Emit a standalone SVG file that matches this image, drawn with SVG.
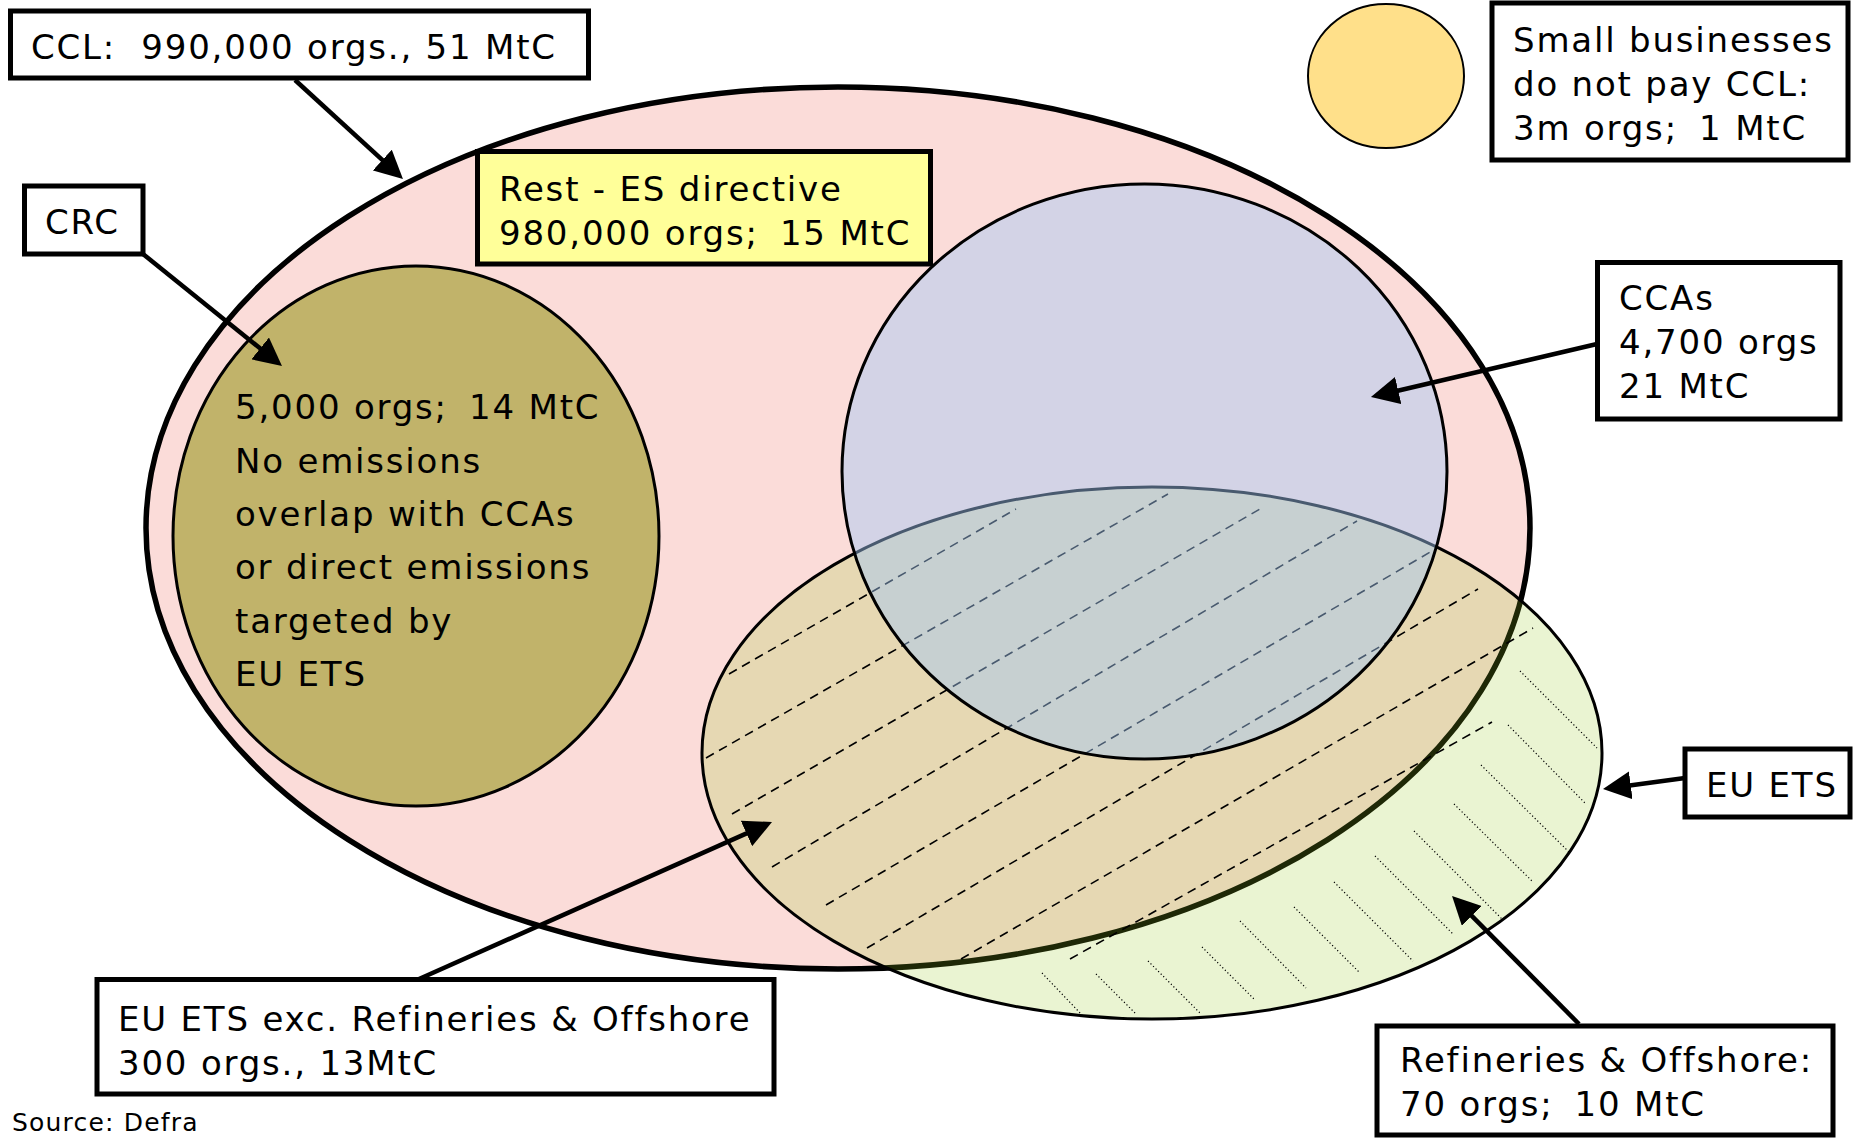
<svg xmlns="http://www.w3.org/2000/svg" width="1854" height="1138" viewBox="0 0 1854 1138">
<defs>
<style>
.lbl{font-family:"DejaVu Sans",Verdana,sans-serif;font-size:34px;letter-spacing:1.8px;fill:#000;white-space:pre}
.src{font-family:"DejaVu Sans",Verdana,sans-serif;font-size:25px;letter-spacing:1.2px;fill:#000;white-space:pre}
.box{fill:#fff;stroke:#000;stroke-width:5}
.conn{stroke:#000;stroke-width:4.5;fill:none;marker-end:url(#ah)}
.dash{stroke:#000;stroke-width:1.6;stroke-dasharray:9 6;fill:none}
.dot{stroke:#000;stroke-width:1.2;stroke-dasharray:1.2 2.4;fill:none}
</style>
<marker id="ah" markerUnits="userSpaceOnUse" markerWidth="28" markerHeight="28" viewBox="0 0 28 28" refX="18" refY="14" orient="auto"><path d="M0,0 L28,14 L0,28 z" fill="#000"/></marker>
</defs>
<rect width="1854" height="1138" fill="#fff"/>

<g id="ccl-ellipse">
<ellipse cx="838" cy="528" rx="692" ry="441" fill="#FBDCD9" stroke="#000" stroke-width="5.5"/>
</g>

<g id="crc-circle">
<ellipse cx="416" cy="536" rx="243" ry="270" fill="#C1B36A" stroke="#000" stroke-width="3"/>
<text class="lbl" x="235" y="419">5,000 orgs; &#8201;14 MtC</text>
<text class="lbl" x="235" y="473">No emissions</text>
<text class="lbl" x="235" y="526">overlap with CCAs</text>
<text class="lbl" x="235" y="579">or direct emissions</text>
<text class="lbl" x="235" y="633">targeted by</text>
<text class="lbl" x="235" y="686">EU ETS</text>
</g>

<g id="eu-ets-ellipse">
<ellipse cx="1152" cy="753" rx="450" ry="266" fill="rgb(150,200,30)" fill-opacity="0.2" stroke="#000" stroke-width="3"/>
<g id="hatch-eu-ets-exc">
<path class="dash" d="M729,674 L1016,509"/>
<path class="dash" d="M706,758 L1168,494"/>
<path class="dash" d="M732,814 L1260,509"/>
<path class="dash" d="M772,867 L1357,521"/>
<path class="dash" d="M826,905 L1432,551"/>
<path class="dash" d="M867,948 L1478,589"/>
<path class="dash" d="M961,959 L1533,628"/>
<path class="dash" d="M1070,959 L1492,722"/>
</g>
<g id="hatch-refineries">
<path class="dot" d="M1042,973 L1082,1015"/>
<path class="dot" d="M1096,974 L1136,1014"/>
<path class="dot" d="M1148,961 L1200,1013"/>
<path class="dot" d="M1202,947 L1254,999"/>
<path class="dot" d="M1240,921 L1306,988"/>
<path class="dot" d="M1294,907 L1360,973"/>
<path class="dot" d="M1334,882 L1413,961"/>
<path class="dot" d="M1375,856 L1453,934"/>
<path class="dot" d="M1414,831 L1502,919"/>
<path class="dot" d="M1454,804 L1533,882"/>
<path class="dot" d="M1481,765 L1569,852"/>
<path class="dot" d="M1508,725 L1585,803"/>
<path class="dot" d="M1520,671 L1597,748"/>
</g>
</g>

<g id="cca-ellipse">
<ellipse cx="1144.5" cy="471.5" rx="302.5" ry="287.5" fill="rgb(162,200,246)" fill-opacity="0.45" stroke="#000" stroke-width="3"/>
</g>

<g id="small-business-circle">
<ellipse cx="1386" cy="76" rx="78" ry="72" fill="#FFE08A" stroke="#000" stroke-width="2"/>
</g>

<g id="connectors">
<path class="conn" d="M295,80 L395.6,172.2"/>
<path class="conn" d="M143,254 L274.2,359.7"/>
<path class="conn" d="M1597,344 L1380.7,394.7"/>
<path class="conn" d="M419,979 L762.9,826.1"/>
<path class="conn" d="M1685,778 L1612.9,787.7"/>
<path class="conn" d="M1579,1024 L1459.1,903.1"/>
</g>

<g id="ccl-label">
<rect class="box" x="10.5" y="11" width="578" height="67"/>
<text class="lbl" x="31" y="59">CCL:  990,000 orgs., 51 MtC</text>
</g>

<g id="crc-label">
<rect class="box" x="24.5" y="186" width="118.5" height="68"/>
<text class="lbl" x="45" y="234">CRC</text>
</g>

<g id="rest-label">
<rect class="box" x="477.5" y="151.5" width="453" height="112.5" style="fill:#FFFF99"/>
<text class="lbl" x="499" y="201">Rest - ES directive</text>
<text class="lbl" x="499" y="245">980,000 orgs; &#8201;15 MtC</text>
</g>

<g id="small-business-label">
<rect class="box" x="1492" y="3" width="356" height="157"/>
<text class="lbl" x="1513" y="52">Small businesses</text>
<text class="lbl" x="1513" y="96">do not pay CCL:</text>
<text class="lbl" x="1513" y="140">3m orgs; &#8201;1 MtC</text>
</g>

<g id="ccas-label">
<rect class="box" x="1597.5" y="262.5" width="242.5" height="156.5"/>
<text class="lbl" x="1619" y="310">CCAs</text>
<text class="lbl" x="1619" y="354">4,700 orgs</text>
<text class="lbl" x="1619" y="398">21 MtC</text>
</g>

<g id="eu-ets-label">
<rect class="box" x="1685" y="749" width="165" height="68"/>
<text class="lbl" x="1706" y="797">EU ETS</text>
</g>

<g id="eu-ets-exc-label">
<rect class="box" x="97" y="979.5" width="677" height="114.5"/>
<text class="lbl" x="118" y="1031">EU ETS exc. Refineries &amp; Offshore</text>
<text class="lbl" x="118" y="1075">300 orgs., 13MtC</text>
</g>

<g id="refineries-label">
<rect class="box" x="1377" y="1026" width="456" height="109"/>
<text class="lbl" x="1400" y="1072">Refineries &amp; Offshore:</text>
<text class="lbl" x="1400" y="1116">70 orgs; &#8201;10 MtC</text>
</g>

<g id="source">
<text class="src" x="12" y="1131">Source: Defra</text>
</g>
</svg>
